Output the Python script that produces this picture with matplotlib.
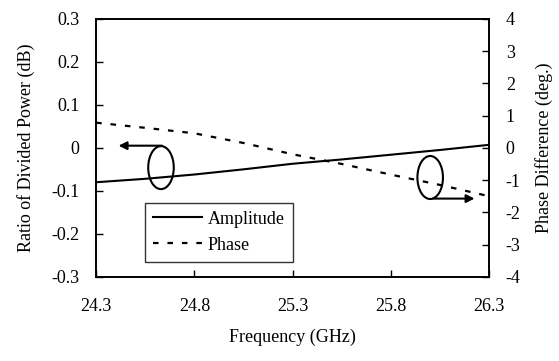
# import libraries
import numpy as np
import matplotlib.pyplot as plt
from matplotlib.patches import Ellipse

plt.rcParams['font.family'] = ['Liberation Serif', 'DejaVu Serif']

# data
freq = [24.3, 24.55, 24.8, 25.05, 25.3, 25.55, 25.8, 26.05, 26.3]
amplitude = [-0.080, -0.072, -0.062, -0.050, -0.037, -0.027, -0.016, -0.005, 0.007]
phase = [0.78, 0.62, 0.45, 0.15, -0.20, -0.50, -0.83, -1.15, -1.50]

x_ticks = [24.3, 24.8, 25.3, 25.8, 26.3]
amp_ticks = [-0.3, -0.2, -0.1, 0, 0.1, 0.2, 0.3]
amp_labels = ['-0.3', '-0.2', '-0.1', '0', '0.1', '0.2', '0.3']
phase_ticks = [-4, -3, -2, -1, 0, 1, 2, 3, 4]

fs = 13

fig = plt.figure(figsize=(5.59, 3.61), dpi=100)
ax = fig.add_axes([0.172, 0.233, 0.703, 0.715])
ax2 = ax.twinx()

# curves
l1, = ax.plot(freq, amplitude, 'k-', lw=1.5, label='Amplitude')
l2, = ax2.plot(freq, phase, 'k', lw=1.6, linestyle=(0, (2.5, 4)), label='Phase')

ax.set_xlim(24.3, 26.3)
ax.set_ylim(-0.3, 0.3)
ax2.set_ylim(-4, 4)

ax.set_xticks(x_ticks)
ax.set_xticklabels([str(t) for t in x_ticks])
ax.set_yticks(amp_ticks)
ax.set_yticklabels(amp_labels)
ax2.set_yticks(phase_ticks)
ax2.set_yticklabels([str(t) for t in phase_ticks])

ax.tick_params(direction='in', length=5, labelsize=fs, width=1)
ax.tick_params(axis='y', pad=12)
ax.tick_params(axis='x', pad=15)
ax2.tick_params(direction='in', length=5, labelsize=fs, pad=12, width=1)
for a in (ax, ax2):
    for s in a.spines.values():
        s.set_linewidth(1.2)

ax.set_xlabel('Frequency (GHz)', fontsize=fs, labelpad=10)
ax.set_ylabel('Ratio of Divided Power (dB)', fontsize=fs, labelpad=12)
ax2.set_ylabel('Phase Difference (deg.)', fontsize=fs, labelpad=10)

# ellipses with arrows pointing to each axis
ax.add_patch(Ellipse((24.63, -0.046), 0.13, 0.1, fill=False, lw=1.5))
ax.annotate('', xy=(24.40, 0.005), xytext=(24.65, 0.005),
            arrowprops=dict(arrowstyle='-|>', color='k', lw=1.5, mutation_scale=12))
ax.add_patch(Ellipse((26.0, -0.069), 0.13, 0.1, fill=False, lw=1.5))
ax.annotate('', xy=(26.24, -0.118), xytext=(26.0, -0.118),
            arrowprops=dict(arrowstyle='-|>', color='k', lw=1.5, mutation_scale=12))

leg = ax.legend(handles=[l1, l2], loc='lower left', bbox_to_anchor=(0.125, 0.058),
                fontsize=fs, frameon=True, fancybox=False, edgecolor='k',
                handlelength=2.7, handletextpad=0.3, borderpad=0.45, labelspacing=0.5,
                borderaxespad=0)
leg.get_frame().set_linewidth(1.0)

fig.savefig('out.png', dpi=100)
